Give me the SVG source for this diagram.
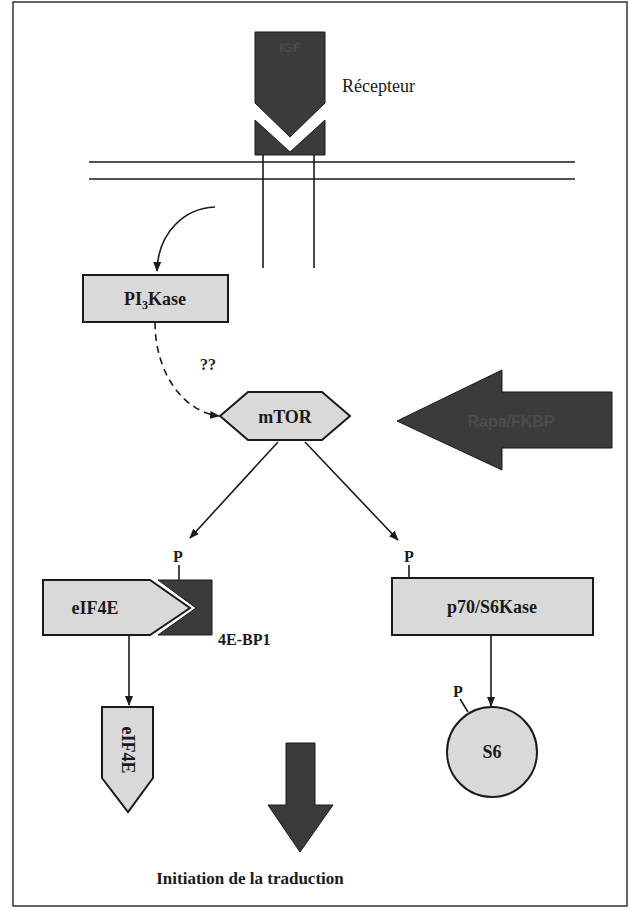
<svg xmlns="http://www.w3.org/2000/svg" width="630" height="910" viewBox="0 0 630 910">
<style>
.lbl{font-family:"Liberation Serif","DejaVu Serif",serif;fill:#1a1a1a}
.b{font-weight:bold}
.box{fill:#d9d9d9;stroke:#1a1a1a;stroke-width:2}
.dark{fill:#3b3b3b;stroke:#1a1a1a;stroke-width:1}
.ln{fill:none;stroke:#1a1a1a;stroke-width:1.6}
.faint{font-family:"Liberation Sans","DejaVu Sans",sans-serif;font-weight:bold;fill:#4c4c4c}
</style>
<defs>
<marker id="ahl" viewBox="0 0 10 10" refX="9" refY="5" markerWidth="10" markerHeight="10" markerUnits="userSpaceOnUse" orient="auto">
<path d="M0,1 L10,5 L0,9 z" fill="#1a1a1a"/>
</marker>
</defs>
<rect x="13" y="2" width="614" height="904" fill="#fff" stroke="#333" stroke-width="1.5"/>

<g id="membrane">
<line x1="89" y1="162" x2="575" y2="162" class="ln"/>
<line x1="89" y1="179" x2="575" y2="179" class="ln"/>
</g>

<g id="recepteur">
<polygon class="dark" points="255,32 325,32 325,103 290,137 255,103"/>
<polygon class="dark" points="255,120 290,152 325,120 325,155 255,155"/>
<line x1="263" y1="155" x2="263" y2="268" class="ln"/>
<line x1="314" y1="155" x2="314" y2="268" class="ln"/>
<text x="290" y="52" class="faint" font-size="13" text-anchor="middle">IGF</text>
<text x="342" y="92" class="lbl" font-size="18">Récepteur</text>
</g>

<g id="connectors">
<path d="M215,207 C185,208 158,232 157,271" class="ln" marker-end="url(#ahl)"/>
<path d="M155,322 C155,375 185,412 219,416" class="ln" stroke-dasharray="7,5" marker-end="url(#ahl)"/>
<line x1="278" y1="442" x2="190" y2="538" class="ln" marker-end="url(#ahl)"/>
<line x1="305" y1="442" x2="398" y2="540" class="ln" marker-end="url(#ahl)"/>
<line x1="129" y1="635" x2="129" y2="705" class="ln" marker-end="url(#ahl)"/>
<line x1="491" y1="635" x2="491" y2="706" class="ln" marker-end="url(#ahl)"/>
<line x1="179" y1="565" x2="179" y2="580" class="ln"/>
<line x1="409" y1="565" x2="409" y2="578" class="ln"/>
<line x1="460" y1="699" x2="468" y2="712" class="ln"/>
</g>

<g id="pi3kase">
<rect x="83" y="275" width="145" height="47" class="box"/>
<text x="155" y="305" class="lbl b" font-size="18" text-anchor="middle">PI<tspan font-size="12" dy="4">3</tspan><tspan dy="-4">Kase</tspan></text>
</g>
<text x="200" y="370" class="lbl b" font-size="16">??</text>

<g id="mtor">
<polygon class="box" points="248,392 322,392 350,416 322,440 248,440 220,416"/>
<text x="285" y="423" class="lbl b" font-size="18" text-anchor="middle">mTOR</text>
</g>

<g id="rapa">
<polygon class="dark" points="397,421 502,370 502,392 612,392 612,448 502,448 502,470"/>
<text x="511" y="427" class="faint" font-size="16" text-anchor="middle">Rapa/FKBP</text>
</g>

<g id="eif4e">
<polygon class="box" points="43,580 150,580 190,608 150,635 43,635"/>
<text x="95" y="614" class="lbl b" font-size="18" text-anchor="middle">eIF4E</text>
<text x="178" y="562" class="lbl b" font-size="16" text-anchor="middle">P</text>
</g>

<g id="bp1">
<polygon class="dark" points="158,580 212,580 212,635 158,635 196,608"/>
<text x="218" y="645" class="lbl b" font-size="16">4E-BP1</text>
</g>

<g id="p70">
<rect x="392" y="578" width="201" height="57" class="box"/>
<text x="492" y="613" class="lbl b" font-size="18" text-anchor="middle">p70/S6Kase</text>
<text x="409" y="562" class="lbl b" font-size="16" text-anchor="middle">P</text>
</g>

<g id="eif4e2">
<polygon class="box" points="102,707 153,707 153,778 128,812 102,778"/>
<text x="0" y="0" class="lbl b" font-size="18" text-anchor="middle" transform="translate(122,750) rotate(90)">eIF4E</text>
</g>

<g id="s6">
<circle cx="492" cy="752" r="45" class="box"/>
<text x="492" y="758" class="lbl b" font-size="18" text-anchor="middle">S6</text>
<text x="458" y="697" class="lbl b" font-size="16" text-anchor="middle">P</text>
</g>

<g id="traduction">
<polygon class="dark" points="286,743 315,743 315,805 333,805 300,852 268,805 286,805"/>
<text x="250" y="884" class="lbl b" font-size="17" text-anchor="middle">Initiation de la traduction</text>
</g>
</svg>
